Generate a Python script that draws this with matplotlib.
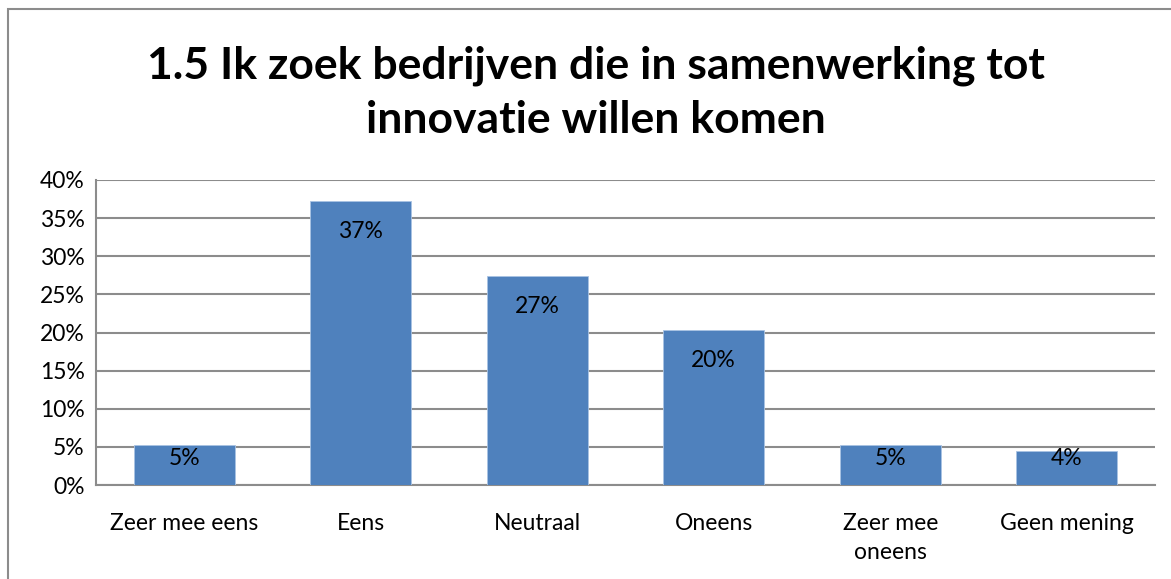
import matplotlib
matplotlib.use("Agg")
import matplotlib.pyplot as plt
from matplotlib.patches import Rectangle
from matplotlib.ticker import PercentFormatter

categories = ["Zeer mee eens", "Eens", "Neutraal", "Oneens", "Zeer mee\noneens", "Geen mening"]
values = [5.2, 37.2, 27.4, 20.3, 5.2, 4.5]
labels = ["5%", "37%", "27%", "20%", "5%", "4%"]
title = "1.5 Ik zoek bedrijven die in samenwerking tot\ninnovatie willen komen"

plt.rcParams['font.family'] = ['Lato', 'DejaVu Sans']

fig = plt.figure(figsize=(11.71, 5.79), dpi=100)
W, H = 1171, 579
ax = fig.add_axes([96 / W, 1 - 485 / H, (1155 - 96) / W, (485 - 180) / H])

x = list(range(len(categories)))
bars = ax.bar(x, values, width=0.57, color="#4F81BD", edgecolor="#A9C3E3", linewidth=0.6, zorder=3)
ax.set_xlim(-0.5, len(categories) - 0.5)
ax.set_ylim(0, 40)
ax.set_yticks(range(0, 41, 5))
ax.yaxis.set_major_formatter(PercentFormatter(decimals=0))
ax.set_xticks(x)
ax.set_xticklabels(categories, fontsize=16.5, linespacing=1.5)
ax.tick_params(axis='y', labelsize=16.5, length=0, pad=8)
ax.tick_params(axis='x', length=0, pad=20)
ax.grid(axis='y', color="#8C8C8C", linewidth=1.5, zorder=0)
for s in ["top", "right"]:
    ax.spines[s].set_visible(False)
for s in ["left", "bottom"]:
    ax.spines[s].set_color("#8C8C8C")
    ax.spines[s].set_linewidth(1.5)

for b, lab in zip(bars, labels):
    h = b.get_height()
    ypos = max(h - 3.93, 3.54)
    ax.text(b.get_x() + b.get_width() / 2, ypos, lab,
            ha="center", va="center", fontsize=16.5, color="black", zorder=4)

fig.text(596 / W, 1 - 93 / H, title, ha="center", va="center", fontsize=32,
         fontweight="bold", linespacing=1.42)

fig.patches.append(Rectangle((8 / W, -0.02), 1.1, 1 - 9 / H + 0.02,
                             transform=fig.transFigure, fill=False,
                             edgecolor="#8C8C8C", linewidth=1.5))

fig.savefig("out.png", dpi=100)
